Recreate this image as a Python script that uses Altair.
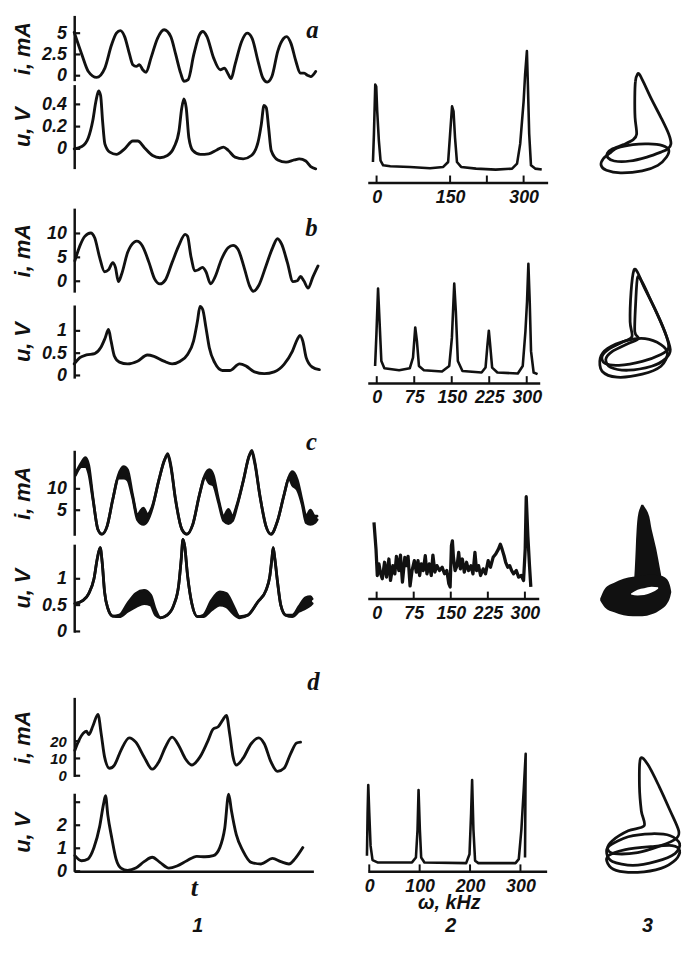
import altair as alt
import pandas as pd

FONT = "Liberation Sans"
SERIF = "Liberation Serif"
INK = "#111111"

# ---------------- column 1: time series ----------------
a_i_t = [0, 7.7, 14.3, 22.7, 31, 37.7, 42.7, 46.7, 51, 56, 59.3, 62.7, 66, 69.3, 72.7, 77.7, 84.3, 91, 97.7, 102.7,
         107.7, 111, 115.3, 121, 126.7, 130, 134.3, 141, 147.7, 152, 155.3, 158.7, 162.7, 169.3, 175, 180, 186, 191,
         195.3, 200, 206, 212, 215, 219.3, 224.3, 228.7, 232.7, 236, 239.3, 244.3]
a_i_v = [5.1, 2.5, 0.5, -0.2, 0.9, 3.6, 5.0, 5.3, 4.6, 2.5, 1.3, 1.1, 1.3, 0.7, 0.4, 2.1, 4.4, 5.4, 4.6, 2.5,
         0.3, -0.65, -0.45, 2.5, 4.8, 5.2, 4.6, 2.1, 0.7, 0.9, 0.3, -0.35, 1.3, 4.0, 5.0, 4.4, 1.7, -0.3,
         -0.75, -0.1, 2.9, 4.4, 4.6, 3.8, 1.7, 0.3, 0.3, 0.05, -0.1, 0.5]

a_u_t = [0, 7.7, 14.3, 18.7, 22, 24.7, 26.7, 28.7, 31, 36, 42.7, 51, 59.3, 64.3, 71, 79.3, 86.7, 94.3, 101, 106,
         108.7, 111, 113.3, 116, 120, 127.7, 136, 144.3, 151, 156, 162.7, 171, 179.3, 186, 189.3, 192, 194.3,
         196.7, 199.3, 206, 214.3, 222.7, 227.7, 234.3, 239.3, 244.3]
a_u_v = [0, 0.02, 0.10, 0.25, 0.43, 0.52, 0.48, 0.25, 0.045, -0.03, -0.05, 0, 0.07, 0.07, 0.01, -0.06, -0.08, -0.06,
         0.015, 0.16, 0.36, 0.45, 0.37, 0.10, -0.015, -0.05, -0.045, -0.01, 0.015, -0.015, -0.075, -0.09, -0.06,
         0.06, 0.22, 0.39, 0.37, 0.19, -0.015, -0.1, -0.12, -0.1, -0.09, -0.11, -0.16, -0.18]

b_i_t = [0.7, 5.7, 10.7, 16.7, 20.7, 25.7, 30.7, 34.7, 39, 41.7, 44.7, 48, 54, 60.7, 63.3, 69, 75.7, 81.3, 86.7,
         92.3, 99, 105.7, 112.3, 114.7, 118, 122.3, 125.7, 129.7, 133.3, 138, 142.3, 149, 155.7, 160.7, 165.7,
         172.3, 177.3, 181.3, 186.7, 194, 200.7, 205.7, 210, 215.7, 221.3, 225.7, 229, 232.3, 236.7, 241.3, 246.7]
b_i_v = [4.3, 7.4, 9.4, 10.1, 9.1, 5.0, 2.0, 2.4, 3.9, 2.9, -0.07, 1.5, 6.0, 8.2, 8.4, 7.4, 3.9, 0.5, -0.55, 0.3,
         3.9, 7.4, 9.8, 9.4, 5.3, 2.2, 2.4, 2.9, 2.0, -0.55, 0.8, 4.6, 7.0, 7.5, 6.7, 2.6, -0.9, -2.1, -0.9, 3.2,
         7.0, 8.9, 7.7, 3.9, -0.07, 0.1, 1.0, 0.1, -1.45, 0.8, 3.2]

b_u_t = [0, 5.7, 12.3, 20.7, 26.7, 31.3, 34.7, 37.3, 40.7, 45.7, 54, 64, 74, 80.7, 90.7, 99, 107.3, 114.7, 120.7,
         124.7, 127.3, 130, 133.3, 136.7, 142.3, 150, 157.3, 167.3, 174, 182.3, 192.3, 202.3, 212.3, 220.7, 225.7,
         228.3, 231.3, 234.7, 240.7, 248]
b_u_v = [0.26, 0.40, 0.46, 0.49, 0.62, 0.84, 1.03, 0.77, 0.43, 0.30, 0.26, 0.32, 0.46, 0.43, 0.32, 0.26, 0.32, 0.47,
         0.77, 1.22, 1.55, 1.48, 1.07, 0.62, 0.28, 0.11, 0.11, 0.26, 0.21, 0.08, 0.04, 0.08, 0.25, 0.54, 0.81, 0.90,
         0.77, 0.40, 0.19, 0.13]

c_i_t = [1.3, 7.3, 11.3, 14.7, 19, 24, 28, 33.3, 39, 44.7, 50, 54, 59, 64, 70, 74, 79, 85.7, 91.3, 94.7, 98, 102.3,
         109, 114, 120, 126.7, 132.3, 136.7, 140.7, 145.7, 151.3, 156, 160, 164.7, 171.3, 176.7, 179.7, 182.7, 188,
         194, 199, 205.7, 212.3, 217.3, 220.7, 225.7, 230.7, 234.7, 239, 243.3, 245.7]
c_i_hi = [13.6, 16.1, 17.3, 15.5, 7.8, 0.5, -0.6, 1.3, 7.5, 13.2, 15.2, 14.4, 8.6, 4.0, 5.5, 4.0, 5.9, 12.1, 16.7,
          18.2, 15.2, 7.8, 0.5, -0.6, 1.7, 8.6, 13.2, 14.5, 13.2, 7.8, 3.6, 5.2, 3.6, 6.3, 12.1, 17.5, 19.0, 16.3,
          8.2, 1.3, -0.6, 2.5, 8.6, 12.8, 14.0, 12.1, 7.1, 3.6, 5.0, 3.6, 3.6]
c_i_lo = [13.2, 15.2, 15.2, 13.6, 7.5, 0.5, -0.6, 1.3, 7.5, 12.5, 12.5, 12.1, 8.1, 2.8, 1.7, 2.5, 5.5, 12.1, 16.7,
          17.8, 14.8, 7.8, 0.5, -0.6, 1.7, 8.6, 12.8, 11.3, 10.9, 7.1, 2.5, 1.9, 2.5, 5.9, 12.1, 17.5, 18.6, 15.9,
          8.2, 1.3, -0.6, 2.5, 8.6, 12.5, 10.9, 9.8, 6.3, 2.1, 1.7, 2.1, 2.8]

c_u_t = [0.7, 9, 14.7, 20, 23.3, 26.3, 28.3, 30.7, 34, 39, 45.7, 54, 62.3, 70.7, 77.3, 82.3, 87.3, 94, 100.7, 105.7,
         108.3, 110, 111.7, 114.7, 119, 124.7, 130.7, 139, 147.3, 154, 160.7, 167.3, 175.7, 185.7, 194, 198, 200,
         201.3, 203, 205.7, 209, 214, 220.7, 227.3, 234, 239, 240.7]
c_u_hi = [0.53, 0.59, 0.72, 1.0, 1.38, 1.59, 1.31, 0.75, 0.44, 0.29, 0.31, 0.53, 0.72, 0.78, 0.69, 0.41, 0.26, 0.31,
          0.5, 0.88, 1.38, 1.75, 1.63, 1.06, 0.53, 0.28, 0.31, 0.59, 0.75, 0.72, 0.5, 0.28, 0.31, 0.56, 0.78, 1.06,
          1.38, 1.59, 1.38, 0.94, 0.5, 0.31, 0.31, 0.47, 0.64, 0.66, 0.62]
c_u_lo = [0.53, 0.59, 0.72, 1.0, 1.38, 1.59, 1.31, 0.75, 0.44, 0.29, 0.28, 0.38, 0.47, 0.53, 0.5, 0.31, 0.26, 0.31,
          0.5, 0.88, 1.38, 1.75, 1.63, 1.06, 0.53, 0.28, 0.28, 0.41, 0.5, 0.47, 0.34, 0.26, 0.31, 0.56, 0.78, 1.06,
          1.38, 1.59, 1.38, 0.94, 0.5, 0.31, 0.28, 0.38, 0.44, 0.5, 0.53]

d_i_t = [0.7, 4.7, 9, 12.3, 14.7, 19, 24, 27.3, 30.7, 35.7, 40.7, 47.3, 55.7, 62.3, 70.7, 79, 85.7, 92.3, 99, 105.7,
         112.3, 119, 127.3, 134.7, 140.7, 145.7, 150.7, 154, 157.3, 160.7, 164, 170.7, 179, 186.7, 192.3, 199,
         205.7, 212.3, 219, 225, 229]
d_i_v = [14.7, 20.4, 24.5, 25.7, 23.8, 28.9, 35.5, 24.2, 10.9, 4.3, 6.2, 14.7, 21.9, 19.4, 10.9, 3.8, 8.1, 16.6,
         22.3, 17.5, 10, 6.2, 10.9, 19.4, 27, 28.3, 32.6, 34.9, 24.2, 10.9, 6.2, 10, 18.5, 21.9, 18.5, 8.1, 2.5,
         4.3, 12.8, 18.9, 19.4]

d_u_t = [0.7, 7.3, 14, 20, 25.7, 29.7, 31.7, 34, 38, 42.3, 47.3, 54, 62.3, 70.7, 79, 86.7, 95.7, 104, 114, 124,
         132.3, 140.7, 147.3, 152.3, 156.3, 159, 164, 170.7, 179, 189, 200.7, 209, 217.3, 223.3, 231.3]
d_u_v = [0.68, 0.46, 0.54, 1.03, 1.94, 2.93, 3.28, 2.44, 1.45, 0.54, 0.14, 0.04, 0.14, 0.42, 0.61, 0.39, 0.14, 0.23,
         0.46, 0.65, 0.63, 0.68, 1.03, 1.87, 3.35, 2.65, 1.59, 0.89, 0.39, 0.32, 0.56, 0.42, 0.32, 0.54, 1.03]

# ---------------- column 2: spectra (omega in kHz, amplitude arbitrary) ----------------
sa_f = [-7.4, -5.4, -2.7, -0.7, 1.3, 4.7, 8.1, 13.4, 28, 68, 109, 136, 146, 150, 154, 157, 160, 164, 172.5, 203,
        243, 276.5, 286.6, 293, 300, 303, 306.7, 308.7, 311.4, 315, 323.5, 337]
sa_A = [20.7, 49, 99, 97, 72, 42, 22, 17.3, 16.3, 15.7, 14.3, 15.7, 20.7, 49, 77, 72, 45.7, 20.7, 15.7, 14,
        13, 14, 19, 39, 82, 109, 133, 99, 49, 17.3, 14, 13]

sb_f = [-3.3, -0.7, 2.6, 5.3, 9.2, 15.2, 44.8, 66, 72.5, 77, 80.4, 84.4, 94.3, 130.5, 145, 150.3, 155, 158.2, 162.2,
        171.4, 209.7, 217.6, 221.5, 224.2, 226.8, 230.8, 241.3, 282.2, 292, 297.4, 300.6, 303.3, 306, 308.6, 313.8,
        321.7]
sb_A = [17.3, 49, 95.7, 65.7, 22.3, 15, 13, 15, 25.7, 56.3, 42.3, 17.3, 13, 11.7, 17.3, 45.7, 100.7, 72.3, 22.3,
        12.3, 10.7, 15.7, 39, 53, 39, 15.7, 10.7, 9.7, 17.3, 52.3, 82.3, 120.7, 82.3, 32.3, 10.7, 9]

sc_f = [-5.4, -1.3, 1.3, 4.7, 8, 11.4, 16, 20, 24.8, 28, 32.8, 36.8, 40, 44.9, 48.2, 52.2, 57, 60.3, 63.6, 67.6,
        71.6, 76.3, 80.4, 83.7, 87, 90.4, 94.4, 98.4, 101.8, 106.5, 110.5, 113.8, 117.9, 121.9, 127.2, 132.6, 137.3,
        142, 146, 148.7, 151.3, 153.3, 155.4, 158.7, 162.7, 166, 169.4, 173.4, 177.4, 182, 186, 190.8, 194.9, 198.9,
        202.2, 206.2, 210.3, 215.6, 220.3, 225.7, 230.3, 235.7, 241, 246.4, 250.4, 253.8, 257.8, 261.1, 265.2, 269.2,
        273.2, 277.2, 282.6, 287.3, 292.6, 297.3, 300.6, 302.7, 306, 309.3, 312]
sc_A = [77, 50, 23.3, 35, 25, 20, 36.7, 21.7, 40, 18.3, 33.3, 25, 42.7, 28.3, 44, 16.7, 41.7, 33.3, 42.7, 12.7,
        28.3, 38.3, 26.7, 38.3, 23.3, 35, 28.3, 43.3, 25, 35, 23.3, 44, 26.7, 33.3, 28.3, 31.7, 25, 28.3, 15, 11.7,
        53.3, 58.3, 41.7, 28.3, 33.3, 46.7, 30, 40, 26.7, 36.7, 28.3, 33.3, 25, 46.7, 28.3, 33.3, 23.3, 30, 25, 38.3,
        31.7, 41.7, 45, 50, 55, 50, 43.3, 36.7, 31.7, 33.3, 28.3, 25, 28.3, 21.7, 23.3, 18.3, 50, 103, 63.3, 33.3,
        11.7]

sd_f = [-4.6, -3.3, -2, 0, 2.6, 6.5, 16.3, 84.8, 92.6, 95.8, 97.8, 100.4, 103, 109.5, 192.3, 198.9, 202.1, 204.1,
        206.7, 210, 216.5, 290.2, 296.7, 301.9, 306.5, 310.4, 309.1]
sd_A = [15.7, 59, 87.3, 59, 25.7, 11.3, 9, 9, 14, 42.3, 82.3, 42.3, 14, 9, 8.3, 17.3, 59, 92.3, 42.3, 10.7, 8.3,
        8.3, 12.3, 42.3, 82.3, 119, 14]

# ---------------- column 3: phase portraits (projection, arbitrary units) ----------------
pa_loops = [
    ([47, 44.7, 44, 44.3, 46, 42, 32, 20.3, 14.7, 15.3, 22, 38.7, 57, 72, 79.3, 82.7, 80.3, 72, 62, 53.7, 49.3],
     [110.7, 103.3, 86.7, 66.7, 50, 44, 39.3, 35, 30.7, 26, 22.7, 22.7, 26.7, 31.7, 35, 40, 50, 66.7, 85, 101.7, 110]),
    ([18.7, 10.3, 8, 13.7, 28.7, 52, 68.7, 78, 80.3, 73.7, 58.7, 42, 25.3],
     [31.7, 25, 18.3, 13.3, 10.7, 12.7, 18.3, 26.7, 34, 38.3, 40, 39.3, 36]),
]
pb_loops = [
    ([43, 40, 39, 41, 32, 17, 9, 12, 27, 52, 72, 80, 78, 67, 54, 47],
     [117, 95, 65, 50, 45, 38, 30, 23, 21, 25, 32, 38, 50, 75, 100, 115]),
    ([47, 45, 44, 48, 37, 20, 13, 18, 37, 62, 76, 82, 74, 62, 52],
     [110, 85, 55, 48, 43, 35, 27, 19, 16, 20, 27, 37, 60, 85, 105]),
    ([15, 7, 9, 25, 52, 72, 79, 72, 55, 35],
     [38, 28, 15, 9, 12, 20, 33, 42, 48, 46]),
]
pc_cone_y = [120, 112, 95, 75, 55, 40]
pc_cone_l = [51, 48, 46, 45, 44, 43]
pc_cone_r = [53, 58, 62, 67, 71, 74]
pc_ring_x = [7, 12, 22, 32, 42, 52, 62, 72, 78, 82, 83]
pc_ring_top = [25, 35, 41, 45, 47, 48, 49, 48, 45, 37, 32]
pc_ring_bot = [23, 16, 11, 8, 7, 7, 9, 14, 19, 27, 31]
pc_hole_x = [40, 47, 54, 62, 69]
pc_hole_top = [30, 34, 35.5, 37, 36.5]
pc_hole_bot = [29, 28, 28.5, 31, 35]
pd_loops = [
    ([50, 49, 51, 54, 37, 20, 15, 22, 47, 72, 88, 91, 82, 70, 58],
     [120, 92, 67, 52, 47, 37, 29, 24, 25, 32, 39, 47, 67, 92, 114]),
    ([17, 14, 20, 42, 67, 87, 92, 82, 62, 37],
     [32, 24, 16, 12, 16, 24, 34, 42, 44, 41]),
    ([16, 15, 24, 47, 72, 88, 92, 84, 62, 34],
     [22, 14, 7, 5, 9, 18, 27, 32, 31, 28]),
]


# ---------------- helpers ----------------
def lab_expr(vals, labs):
    expr = "''"
    for v, l in zip(vals, labs):
        expr = f"datum.value == {v} ? '{l}' : ({expr})"
    return expr


def y_axis(title, ticks, labels, lsize=18):
    return alt.Axis(values=ticks, labelExpr=lab_expr(ticks, labels), title=title, titleX=-40,
                    titleFont=FONT, titleFontSize=22, titleFontStyle="italic", titleFontWeight="bold",
                    titleColor=INK, labelFont=FONT, labelFontSize=lsize, labelFontStyle="italic",
                    labelFontWeight="bold", labelColor=INK, labelPadding=8, ticks=False, domainColor=INK,
                    domainWidth=2.5, grid=False, labelOverlap=False, labelFlush=False)


def ts_panel(t, series, h, dom, ticks, labels, title, w=250, letter=None, xtitle=None, lsize=18):
    xs = alt.Scale(domain=[0, w], nice=False, zero=False)
    ys = alt.Scale(domain=dom, nice=False, zero=False)
    yax = y_axis(title, ticks, labels, lsize)
    if xtitle:
        xax = alt.Axis(title=xtitle, ticks=False, labels=False, domainColor=INK, domainWidth=2.5, grid=False,
                       titleFont=SERIF, titleFontSize=26, titleFontStyle="italic", titleFontWeight="bold",
                       titleColor=INK, titlePadding=3)
    else:
        xax = None
    X = alt.X("t:Q", scale=xs, axis=xax)
    layers = []
    if len(series) == 2:
        hi, lo = series
        df = pd.DataFrame({"t": t, "hi": hi, "lo": lo})
        layers.append(alt.Chart(df).mark_area(interpolate="monotone", color=INK).encode(
            x=X, y=alt.Y("lo:Q", scale=ys, axis=yax), y2="hi:Q"))
        for col in ["hi", "lo"]:
            layers.append(alt.Chart(df).mark_line(interpolate="monotone", color=INK, strokeWidth=2.8,
                                                  strokeCap="round").encode(
                x=X, y=alt.Y(f"{col}:Q", scale=ys, axis=yax)))
    else:
        df = pd.DataFrame({"t": t, "v": series[0]})
        layers.append(alt.Chart(df).mark_line(interpolate="monotone", color=INK, strokeWidth=2.9,
                                              strokeCap="round").encode(
            x=X, y=alt.Y("v:Q", scale=ys, axis=yax)))
    layers.append(alt.Chart(pd.DataFrame({"v": ticks})).mark_rule(color=INK, strokeWidth=2.2).encode(
        y=alt.Y("v:Q", scale=ys, axis=yax), x=alt.value(0), x2=alt.value(6)))
    if letter:
        txt, lt, lv = letter
        layers.append(alt.Chart(pd.DataFrame({"t": [lt], "v": [lv], "s": [txt]})).mark_text(
            font=SERIF, fontSize=25, fontStyle="italic", fontWeight="bold", color=INK).encode(
            x=X, y=alt.Y("v:Q", scale=ys, axis=yax), text="s:N"))
    return alt.layer(*layers).properties(width=w, height=h)


def spec_panel(f, A, w, h, dom, ticks, labels, xtitle=None, sw=2.6):
    xs = alt.Scale(domain=dom, nice=False, zero=False)
    ys = alt.Scale(domain=[0, h], nice=False, zero=False)
    ax = dict(values=ticks, labelExpr=lab_expr(ticks, labels), ticks=False, domainColor=INK, domainWidth=2.5,
              grid=False, labelFont=FONT, labelFontSize=18, labelFontStyle="italic", labelFontWeight="bold",
              labelColor=INK, labelPadding=6, labelOverlap=False, labelFlush=False)
    if xtitle:
        ax.update(title=xtitle, titleFont=FONT, titleFontSize=20, titleFontStyle="italic", titleFontWeight="bold",
                  titleColor=INK, titleX=82, titleY=22, titleBaseline="top")
    else:
        ax.update(title=None)
    xax = alt.Axis(**ax)
    df = pd.DataFrame({"f": f, "A": A, "k": list(range(len(f)))})
    line = alt.Chart(df).mark_line(color=INK, strokeWidth=sw, strokeJoin="round").encode(
        x=alt.X("f:Q", scale=xs, axis=xax), y=alt.Y("A:Q", scale=ys, axis=None), order="k:Q")
    tk = alt.Chart(pd.DataFrame({"f": ticks})).mark_rule(color=INK, strokeWidth=2).encode(
        x=alt.X("f:Q", scale=xs, axis=xax), y=alt.value(h - 7), y2=alt.value(h))
    return alt.layer(line, tk).properties(width=w, height=h)


PW = 87
PX = alt.Scale(domain=[-8, 84], nice=False, zero=False)


def portrait(loops, h):
    rows = []
    for li, (xs_, ys_) in enumerate(loops):
        for k, (x, y) in enumerate(zip(xs_, ys_)):
            rows.append({"x": x, "y": y, "loop": li, "k": k})
    df = pd.DataFrame(rows)
    return alt.Chart(df).mark_line(interpolate="cardinal-closed", tension=0.1, color=INK, strokeWidth=2.8).encode(
        x=alt.X("x:Q", scale=PX, axis=None),
        y=alt.Y("y:Q", scale=alt.Scale(domain=[0, h], nice=False, zero=False), axis=None),
        detail="loop:N", order="k:Q").properties(width=PW, height=h)


def portrait_c(h):
    ys = alt.Scale(domain=[0, h], nice=False, zero=False)
    cone = alt.Chart(pd.DataFrame({"y": pc_cone_y, "l": pc_cone_l, "r": pc_cone_r})).mark_area(
        orient="horizontal", interpolate="monotone", color=INK).encode(
        y=alt.Y("y:Q", scale=ys, axis=None), x=alt.X("l:Q", scale=PX, axis=None), x2="r:Q")
    ring = alt.Chart(pd.DataFrame({"x": pc_ring_x, "t": pc_ring_top, "b": pc_ring_bot})).mark_area(
        interpolate="monotone", color=INK).encode(
        x=alt.X("x:Q", scale=PX, axis=None), y=alt.Y("t:Q", scale=ys, axis=None), y2="b:Q")
    hole = alt.Chart(pd.DataFrame({"x": pc_hole_x, "t": pc_hole_top, "b": pc_hole_bot})).mark_area(
        interpolate="monotone", color="white").encode(
        x=alt.X("x:Q", scale=PX, axis=None), y=alt.Y("t:Q", scale=ys, axis=None), y2="b:Q")
    return alt.layer(cone, ring, hole).properties(width=PW, height=h)


def spacer(w, h, label="", x=None, y=None):
    enc = {"text": "s:N"}
    if x is not None:
        enc["x"] = alt.value(x)
    if y is not None:
        enc["y"] = alt.value(y)
    return alt.Chart(pd.DataFrame({"s": [label]})).mark_text(
        font=FONT, fontSize=20, fontStyle="italic", fontWeight="bold", color=INK, baseline="middle").encode(
        **enc).properties(width=w, height=h)


W1 = 250
col1 = alt.vconcat(
    ts_panel(a_i_t, [a_i_v], 66, [-0.58, 7.09], [0, 2.5, 5], ["0", "2.5", "5"], "i, mA",
             letter=("a", 241, 5.35)),
    spacer(W1, 4),
    ts_panel(a_u_t, [a_u_v], 85, [-0.178, 0.578], [0, 0.2, 0.4], ["0", "0.2", "0.4"], "u, V"),
    spacer(W1, 40),
    ts_panel(b_i_t, [b_i_v], 85, [-2.28, 15.3], [0, 5, 10], ["0", "5", "10"], "i, mA",
             letter=("b", 240, 11.2)),
    spacer(W1, 13),
    ts_panel(b_u_t, [b_u_v], 74, [-0.06, 1.58], [0, 0.5, 1], ["0", "0.5", "1"], "u, V"),
    spacer(W1, 73),
    ts_panel(c_i_t, [c_i_hi, c_i_lo], 86, [-0.85, 19.0], [5, 10], ["5", "10"], "i, mA",
             letter=("c", 240, 20.85)),
    spacer(W1, 9),
    ts_panel(c_u_t, [c_u_hi, c_u_lo], 89, [-0.013, 1.657], [0, 0.5, 1], ["0", "0.5", "1"], "u, V"),
    spacer(W1, 66),
    ts_panel(d_i_t, [d_i_v], 80, [-0.4, 45.3], [0, 10, 20], ["0", "10", "20"], "i, mA",
             letter=("d", 242, 53.9), lsize=15),
    spacer(W1, 17),
    ts_panel(d_u_t, [d_u_v], 79, [0, 3.39], [0, 1, 2, 3], ["0", "1", "2", ""], "u, V", w=242, xtitle="t"),
    spacer(W1, 56, "1", y=55),
    spacing=0, bounds="flush",
).resolve_scale(x="independent", y="independent")

W2 = 182
col2 = alt.vconcat(
    spacer(W2, 35),
    spec_panel(sa_f, sa_A, 182, 134, [-18, 349], [0, 150, 225, 300], ["0", "150", "", "300"]),
    spacer(W2, 83),
    spec_panel(sb_f, sb_A, 174, 120, [-18, 326], [0, 75, 150, 225, 300], ["0", "75", "150", "225", "300"]),
    spacer(W2, 113),
    spec_panel(sc_f, sc_A, 173, 105, [-18, 328], [0, 75, 150, 225, 300], ["0", "75", "150", "225", "300"],
               sw=3.3),
    spacer(W2, 157),
    spec_panel(sd_f, sd_A, 181, 119, [-3, 352], [0, 100, 200, 300], ["0", "100", "200", "300"],
               xtitle="ω, kHz"),
    spacer(W2, 56, "2", x=84, y=55),
    spacing=0, bounds="flush",
).resolve_scale(x="independent", y="independent")

col3 = alt.vconcat(
    spacer(PW, 50),
    portrait(pa_loops, 120),
    spacer(PW, 75),
    portrait(pb_loops, 130),
    spacer(PW, 113),
    portrait_c(127),
    spacer(PW, 127),
    portrait(pd_loops, 130),
    spacer(PW, 50, "3", x=62, y=49),
    spacing=0, bounds="flush",
).resolve_scale(x="independent", y="independent")

chart = alt.hconcat(col1, col2, col3, spacing=39).properties(
    padding={"left": 4, "top": 2, "right": 0, "bottom": 0}
).configure_view(strokeWidth=0, stroke=None)

chart.save("out.html", embed_options={"renderer": "svg", "actions": False})
